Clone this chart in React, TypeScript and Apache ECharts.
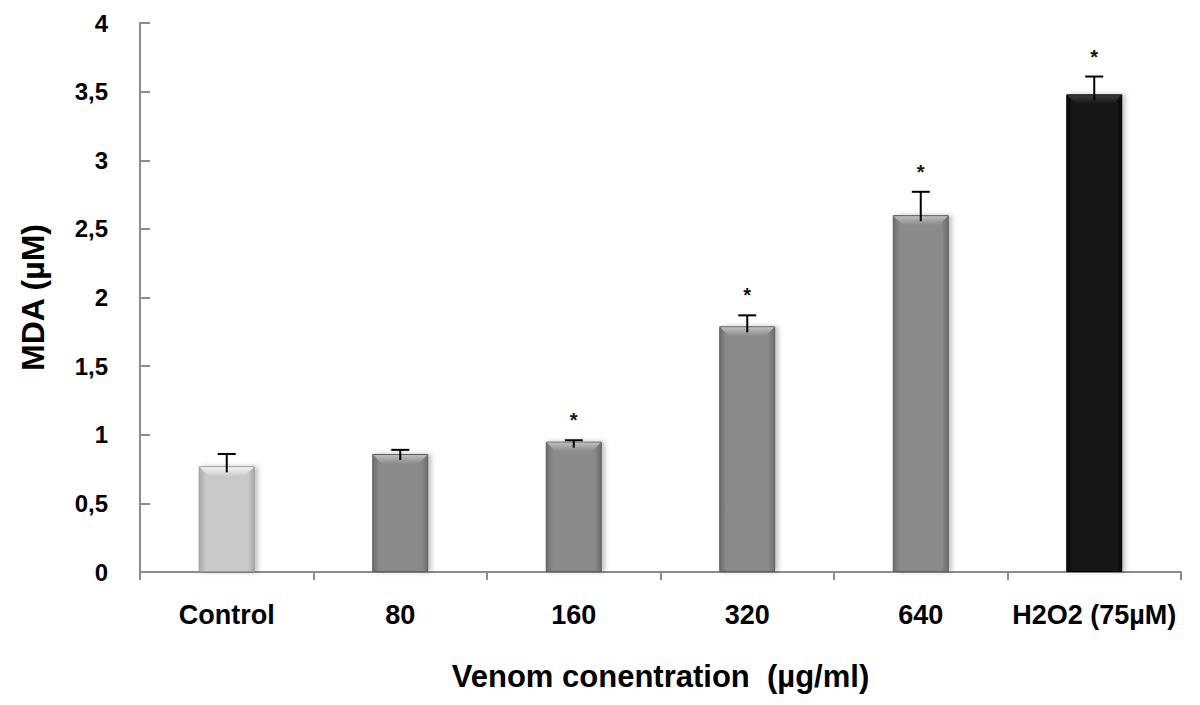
import React, { useEffect, useRef } from "react";
import * as echarts from "echarts";

const categories = ["Control", "80", "160", "320", "640", "H2O2 (75µM)"];
const means = [0.77, 0.86, 0.95, 1.79, 2.6, 3.48];
const errors = [0.09, 0.03, 0.01, 0.08, 0.17, 0.13];
const significant = [false, false, true, true, true, true];
const yTicks = [0, 0.5, 1, 1.5, 2, 2.5, 3, 3.5, 4];

const FONT = "'Liberation Sans', Arial, Helvetica, sans-serif";

const barPalette = [
  { edge: "#a9a9a9", mid: "#c9c9c9", hi: "#f2f2f2", border: "#9a9a9a" },
  { edge: "#6c6c6c", mid: "#8a8a8a", hi: "#bdbdbd", border: "#5e5e5e" },
  { edge: "#6c6c6c", mid: "#8a8a8a", hi: "#bdbdbd", border: "#5e5e5e" },
  { edge: "#6c6c6c", mid: "#8a8a8a", hi: "#bdbdbd", border: "#5e5e5e" },
  { edge: "#6c6c6c", mid: "#8a8a8a", hi: "#bdbdbd", border: "#5e5e5e" },
  { edge: "#0c0c0c", mid: "#151515", hi: "#3a3a3a", border: "#050505" },
];

export default function App() {
  const ref = useRef<HTMLDivElement>(null);

  useEffect(() => {
    if (!ref.current) return;
    const chart = echarts.init(ref.current, undefined, { renderer: "svg" });

    const barData = means.map((v, i) => ({
      value: v,
      itemStyle: {
        color: new echarts.graphic.LinearGradient(0, 0, 1, 0, [
          { offset: 0, color: barPalette[i].edge },
          { offset: 0.12, color: barPalette[i].mid },
          { offset: 0.88, color: barPalette[i].mid },
          { offset: 1, color: barPalette[i].edge },
        ]),
        borderColor: barPalette[i].border,
        borderWidth: 1,
        shadowBlur: 5,
        shadowOffsetX: 3,
        shadowOffsetY: 0,
        shadowColor: "rgba(0,0,0,0.25)",
      },
    }));

    const customData = means.map((v, i) => [i, v, errors[i], significant[i] ? 1 : 0]);

    chart.setOption({
      animation: false,
      backgroundColor: "#ffffff",
      grid: { left: 140, right: 19, top: 23, bottom: 133, containLabel: false },
      xAxis: {
        type: "category",
        data: categories,
        axisLine: { show: true, lineStyle: { color: "#8c8c8c", width: 2 } },
        axisTick: { show: true, interval: 0, inside: false, length: 8, lineStyle: { color: "#8c8c8c", width: 2 } },
        axisLabel: {
          interval: 0,
          hideOverlap: false,
          color: "#000",
          fontFamily: FONT,
          fontWeight: "bold",
          fontSize: 27,
          margin: 29,
        },
        name: "Venom conentration  (µg/ml)",
        nameLocation: "middle",
        nameGap: 89,
        nameTextStyle: { color: "#000", fontFamily: FONT, fontWeight: "bold", fontSize: 31 },
      },
      yAxis: {
        type: "value",
        min: 0,
        max: 4,
        interval: 0.5,
        axisLine: { show: true, lineStyle: { color: "#8c8c8c", width: 2 } },
        axisTick: { show: true, inside: true, length: 10, lineStyle: { color: "#8c8c8c", width: 2 } },
        splitLine: { show: false },
        axisLabel: {
          color: "#000",
          fontFamily: FONT,
          fontWeight: "bold",
          fontSize: 24,
          margin: 32,
          formatter: (v: number) =>
            yTicks.indexOf(v) >= 0 ? String(v).replace(".", ",") : "",
        },
        name: "MDA (µM)",
        nameLocation: "middle",
        nameGap: 91,
        nameRotate: 90,
        nameTextStyle: { color: "#000", fontFamily: FONT, fontWeight: "bold", fontSize: 32 },
      },
      series: [
        {
          type: "bar",
          data: barData,
          barWidth: 56,
          z: 2,
        },
        {
          type: "custom",
          z: 5,
          data: customData,
          renderItem: (params: any, api: any) => {
            const idx = api.value(0);
            const mean = api.value(1);
            const err = api.value(2);
            const sig = api.value(3);
            const top = api.coord([idx, mean]);
            const hi = api.coord([idx, mean + err]);
            const bw = 56;
            const x0 = top[0] - bw / 2 + 1;
            const x1 = top[0] + bw / 2 - 1;
            const pal = barPalette[idx];
            const children: any[] = [
              {
                type: "polygon",
                shape: {
                  points: [
                    [x0, top[1] + 1],
                    [x1, top[1] + 1],
                    [x1 - 9, top[1] + 10],
                    [x0 + 9, top[1] + 10],
                  ],
                },
                style: {
                  fill: new echarts.graphic.LinearGradient(0, 0, 0, 1, [
                    { offset: 0, color: pal.hi },
                    { offset: 1, color: pal.mid },
                  ]),
                },
              },
              {
                type: "line",
                shape: { x1: top[0], y1: top[1] + 6, x2: hi[0], y2: hi[1] },
                style: { stroke: "#000", lineWidth: 2 },
              },
              {
                type: "line",
                shape: { x1: hi[0] - 9, y1: hi[1], x2: hi[0] + 9, y2: hi[1] },
                style: { stroke: "#000", lineWidth: 2 },
              },
            ];
            if (sig) {
              children.push({
                type: "text",
                x: hi[0],
                y: hi[1] - 20,
                style: {
                  text: "*",
                  fill: "#111",
                  font: `bold 20px ${FONT}`,
                  align: "center",
                  verticalAlign: "middle",
                },
              });
            }
            return { type: "group", children };
          },
        },
      ],
    });

    return () => chart.dispose();
  }, []);

  return (
    <div
      ref={ref}
      style={{ position: "absolute", left: 0, top: 0, width: 1200, height: 705 }}
    />
  );
}
